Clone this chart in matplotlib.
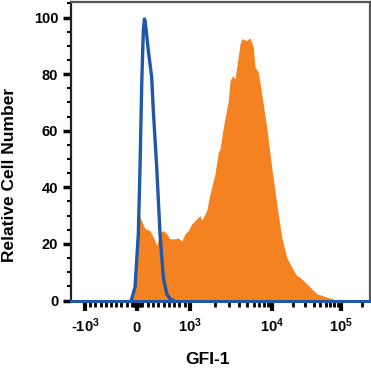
import matplotlib
matplotlib.use('Agg')
import matplotlib.pyplot as plt
from matplotlib.scale import FuncScale
from matplotlib.ticker import FixedLocator
import numpy as np

#----------------------------------------------------
# Data
#----------------------------------------------------
# GFI-1 stained sample (filled orange)
stain_x = [-1884, -200, -102, -38, -6, 43, 89, 151, 245, 308, 372, 434, 496,
           560, 623, 717, 779, 843, 906, 968, 1049, 1207, 1324, 1389, 1598,
           1754, 2018, 2214, 2322, 2548, 2932, 3075, 3317, 3539, 3712, 4072,
           4272, 4915, 5391, 5916, 6204, 6809, 7488, 8619, 9916, 11699, 13823,
           16331, 19300, 22803, 25458, 31840, 44446, 62041, 86620, 263000]
stain_y = [0, 0, 0.6, 9.5, 23.6, 30, 28, 25.4, 24.7, 22.4, 19.4, 24, 24.7,
           23.6, 21.8, 21.8, 22.1, 21, 23.6, 24.7, 27, 28.9, 30, 28.3, 31.8,
           37.7, 44.8, 52.4, 53.6, 61.2, 70.7, 77.7, 79.5, 78.3, 82.5, 90.7,
           92.5, 91.9, 92.8, 89.5, 82.5, 80.7, 73, 61.2, 47.1, 34.2, 22.4,
           15.3, 11.8, 8.8, 8.2, 5.9, 2.4, 1.2, 0.2, 0]

# isotype control (blue line)
ctrl_x = [-102, -38, 25, 57, 89, 119, 140, 151, 170, 213, 277, 308, 372, 434,
          496, 560, 623, 680]
ctrl_y = [0.6, 4.7, 23.6, 47.1, 76.5, 95.4, 99.5, 99, 96, 88.3, 78.9, 67, 47,
          23.6, 8.2, 2.4, 0.6, 0]

xticks = [-1000, 0, 1000, 10000, 100000]
xticklabels = [r'-$10^{3}$', r'$0$', r'$10^{3}$', r'$10^{4}$', r'$10^{5}$']
yticks = [0, 20, 40, 60, 80, 100]

orange = '#F58220'
blue = '#1F58A8'

#----------------------------------------------------
# Biexponential-like axis (linear around 0, log beyond +-10^3)
#----------------------------------------------------
U_ANCH = [-3, -1, 0, 1, 2, 3, 5]
P_ANCH = [-19, 85, 137, 190, 272, 341, 479]

def to_u(x):
    x = np.asarray(x, dtype=float)
    ax_ = np.maximum(np.abs(x), 1e-12)
    return np.where(ax_ <= 1000, x / 1000.0,
                    np.sign(x) * (1 + np.log10(ax_ / 1000.0)))

def from_u(u):
    u = np.asarray(u, dtype=float)
    return np.where(np.abs(u) <= 1, u * 1000.0,
                    np.sign(u) * 1000.0 * 10 ** (np.abs(u) - 1))

def forward(x):
    return np.interp(to_u(x), U_ANCH, P_ANCH)

def inverse(p):
    return from_u(np.interp(p, P_ANCH, U_ANCH))

#----------------------------------------------------
# Fonts
#----------------------------------------------------
plt.rcParams['font.family'] = ['Liberation Sans', 'DejaVu Sans']
plt.rcParams['font.weight'] = 'bold'
plt.rcParams['mathtext.fontset'] = 'custom'
plt.rcParams['mathtext.rm'] = 'Liberation Sans:bold'
plt.rcParams['mathtext.bf'] = 'Liberation Sans:bold'
plt.rcParams['mathtext.it'] = 'Liberation Sans:bold'
plt.rcParams['mathtext.default'] = 'bf'

#----------------------------------------------------
# Plot
#----------------------------------------------------
fig = plt.figure(figsize=(3.71, 3.72), dpi=100)
ax = fig.add_axes([70.7 / 371, (372 - 300.5) / 372, 299.3 / 371, 298.5 / 372])
ax.set_xscale(FuncScale(ax, (forward, inverse)))

ax.fill_between(stain_x, 0, stain_y, color=orange, linewidth=0, zorder=2)
ax.axhline(0, color=blue, linewidth=2.2, clip_on=False, zorder=3)
ax.plot(ctrl_x, ctrl_y, color=blue, linewidth=2.4, zorder=4,
        solid_joinstyle='round')

ax.set_xlim(-1884, 263000)
ax.set_ylim(0, 105.5)

# x ticks
minor_x = ([-v for v in range(100, 1000, 100)] + list(range(100, 1000, 100))
           + [-60, -30, 30, 60]
           + [m * 10 ** e for e in (3, 4, 5) for m in range(2, 10)])
ax.xaxis.set_major_locator(FixedLocator(xticks))
ax.xaxis.set_minor_locator(FixedLocator(minor_x))
ax.set_xticklabels(xticklabels)
ax.tick_params(axis='x', which='major', length=7, width=3, pad=16,
               labelsize=10.5, colors='black')
ax.tick_params(axis='x', which='minor', length=4.5, width=2)
plt.setp(ax.get_xticklabels(), va='baseline')

# y ticks
ax.yaxis.set_major_locator(FixedLocator(yticks))
ax.yaxis.set_minor_locator(FixedLocator(list(range(0, 106, 5))))
ax.tick_params(axis='y', which='major', length=6, width=2.5, pad=3,
               labelsize=10.5)
ax.tick_params(axis='y', which='minor', length=3, width=1.5)

for s in ['top', 'right']:
    ax.spines[s].set_color('#555555')
    ax.spines[s].set_linewidth(1.6)
ax.spines['left'].set_color('#222222')
ax.spines['left'].set_linewidth(1.6)
ax.spines['bottom'].set_color('#888888')

fig.text(10 / 371, 1 - 175 / 372, 'Relative Cell Number', rotation=90,
         ha='center', va='center', fontsize=12.5, fontweight='bold')
fig.text(207.5 / 371, 1 - 360 / 372, 'GFI-1', ha='center', va='center',
         fontsize=12.5, fontweight='bold')

fig.savefig('out.png', dpi=100)
